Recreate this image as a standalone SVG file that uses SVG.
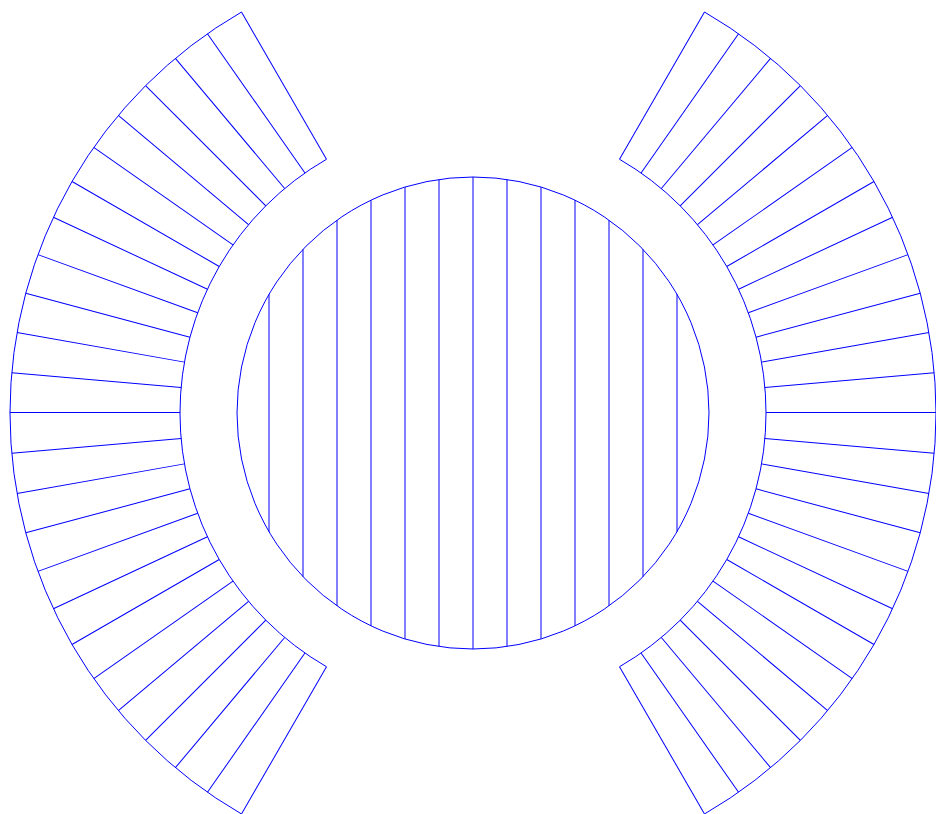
<svg xmlns="http://www.w3.org/2000/svg" xmlns:xlink="http://www.w3.org/1999/xlink" width="936" height="814" viewBox="0 0 936 814">
<style>
.s{fill:none;stroke:#0000ff;stroke-width:1}
</style>
<defs>
<line id="r" x1="766" y1="413" x2="936" y2="413" class="s"/>
</defs>
<rect width="936" height="814" fill="#ffffff"/>
<g id="circle">
<circle cx="473" cy="413" r="236" class="s"/>
<line class="s" x1="269" y1="294.34" x2="269" y2="531.66"/>
<line class="s" x1="303" y1="249.31" x2="303" y2="576.69"/>
<line class="s" x1="337" y1="220.13" x2="337" y2="605.87"/>
<line class="s" x1="371" y1="200.18" x2="371" y2="625.82"/>
<line class="s" x1="405" y1="187.01" x2="405" y2="638.99"/>
<line class="s" x1="439" y1="179.46" x2="439" y2="646.54"/>
<line class="s" x1="473" y1="177" x2="473" y2="649"/>
<line class="s" x1="507" y1="179.46" x2="507" y2="646.54"/>
<line class="s" x1="541" y1="187.01" x2="541" y2="638.99"/>
<line class="s" x1="575" y1="200.18" x2="575" y2="625.82"/>
<line class="s" x1="609" y1="220.13" x2="609" y2="605.87"/>
<line class="s" x1="643" y1="249.31" x2="643" y2="576.69"/>
<line class="s" x1="677" y1="294.34" x2="677" y2="531.66"/>
</g>
<g id="right-band">
<path class="s" d="M704.5,12.03 A463,463 0 0 1 704.5,813.97"/>
<path class="s" d="M619.5,159.25 A293,293 0 0 1 619.5,666.75"/>
<use xlink:href="#r" transform="rotate(-60 473 413)"/>
<use xlink:href="#r" transform="rotate(-55 473 413)"/>
<use xlink:href="#r" transform="rotate(-50 473 413)"/>
<use xlink:href="#r" transform="rotate(-45 473 413)"/>
<use xlink:href="#r" transform="rotate(-40 473 413)"/>
<use xlink:href="#r" transform="rotate(-35 473 413)"/>
<use xlink:href="#r" transform="rotate(-30 473 413)"/>
<use xlink:href="#r" transform="rotate(-25 473 413)"/>
<use xlink:href="#r" transform="rotate(-20 473 413)"/>
<use xlink:href="#r" transform="rotate(-15 473 413)"/>
<use xlink:href="#r" transform="rotate(-10 473 413)"/>
<use xlink:href="#r" transform="rotate(-5 473 413)"/>
<line class="s" x1="766" y1="412.5" x2="936" y2="412.5"/>
<use xlink:href="#r" transform="rotate(5 473 413)"/>
<use xlink:href="#r" transform="rotate(10 473 413)"/>
<use xlink:href="#r" transform="rotate(15 473 413)"/>
<use xlink:href="#r" transform="rotate(20 473 413)"/>
<use xlink:href="#r" transform="rotate(25 473 413)"/>
<use xlink:href="#r" transform="rotate(30 473 413)"/>
<use xlink:href="#r" transform="rotate(35 473 413)"/>
<use xlink:href="#r" transform="rotate(40 473 413)"/>
<use xlink:href="#r" transform="rotate(45 473 413)"/>
<use xlink:href="#r" transform="rotate(50 473 413)"/>
<use xlink:href="#r" transform="rotate(55 473 413)"/>
<use xlink:href="#r" transform="rotate(60 473 413)"/>
</g>
<g id="left-band">
<path class="s" d="M241.5,12.03 A463,463 0 0 0 241.5,813.97"/>
<path class="s" d="M326.5,159.25 A293,293 0 0 0 326.5,666.75"/>
<use xlink:href="#r" transform="rotate(120 473 413)"/>
<use xlink:href="#r" transform="rotate(125 473 413)"/>
<use xlink:href="#r" transform="rotate(130 473 413)"/>
<use xlink:href="#r" transform="rotate(135 473 413)"/>
<use xlink:href="#r" transform="rotate(140 473 413)"/>
<use xlink:href="#r" transform="rotate(145 473 413)"/>
<use xlink:href="#r" transform="rotate(150 473 413)"/>
<use xlink:href="#r" transform="rotate(155 473 413)"/>
<use xlink:href="#r" transform="rotate(160 473 413)"/>
<use xlink:href="#r" transform="rotate(165 473 413)"/>
<use xlink:href="#r" transform="rotate(170 473 413)"/>
<use xlink:href="#r" transform="rotate(175 473 413)"/>
<line class="s" x1="10" y1="412.5" x2="180" y2="412.5"/>
<use xlink:href="#r" transform="rotate(185 473 413)"/>
<use xlink:href="#r" transform="rotate(190 473 413)"/>
<use xlink:href="#r" transform="rotate(195 473 413)"/>
<use xlink:href="#r" transform="rotate(200 473 413)"/>
<use xlink:href="#r" transform="rotate(205 473 413)"/>
<use xlink:href="#r" transform="rotate(210 473 413)"/>
<use xlink:href="#r" transform="rotate(215 473 413)"/>
<use xlink:href="#r" transform="rotate(220 473 413)"/>
<use xlink:href="#r" transform="rotate(225 473 413)"/>
<use xlink:href="#r" transform="rotate(230 473 413)"/>
<use xlink:href="#r" transform="rotate(235 473 413)"/>
<use xlink:href="#r" transform="rotate(240 473 413)"/>
</g>
</svg>
